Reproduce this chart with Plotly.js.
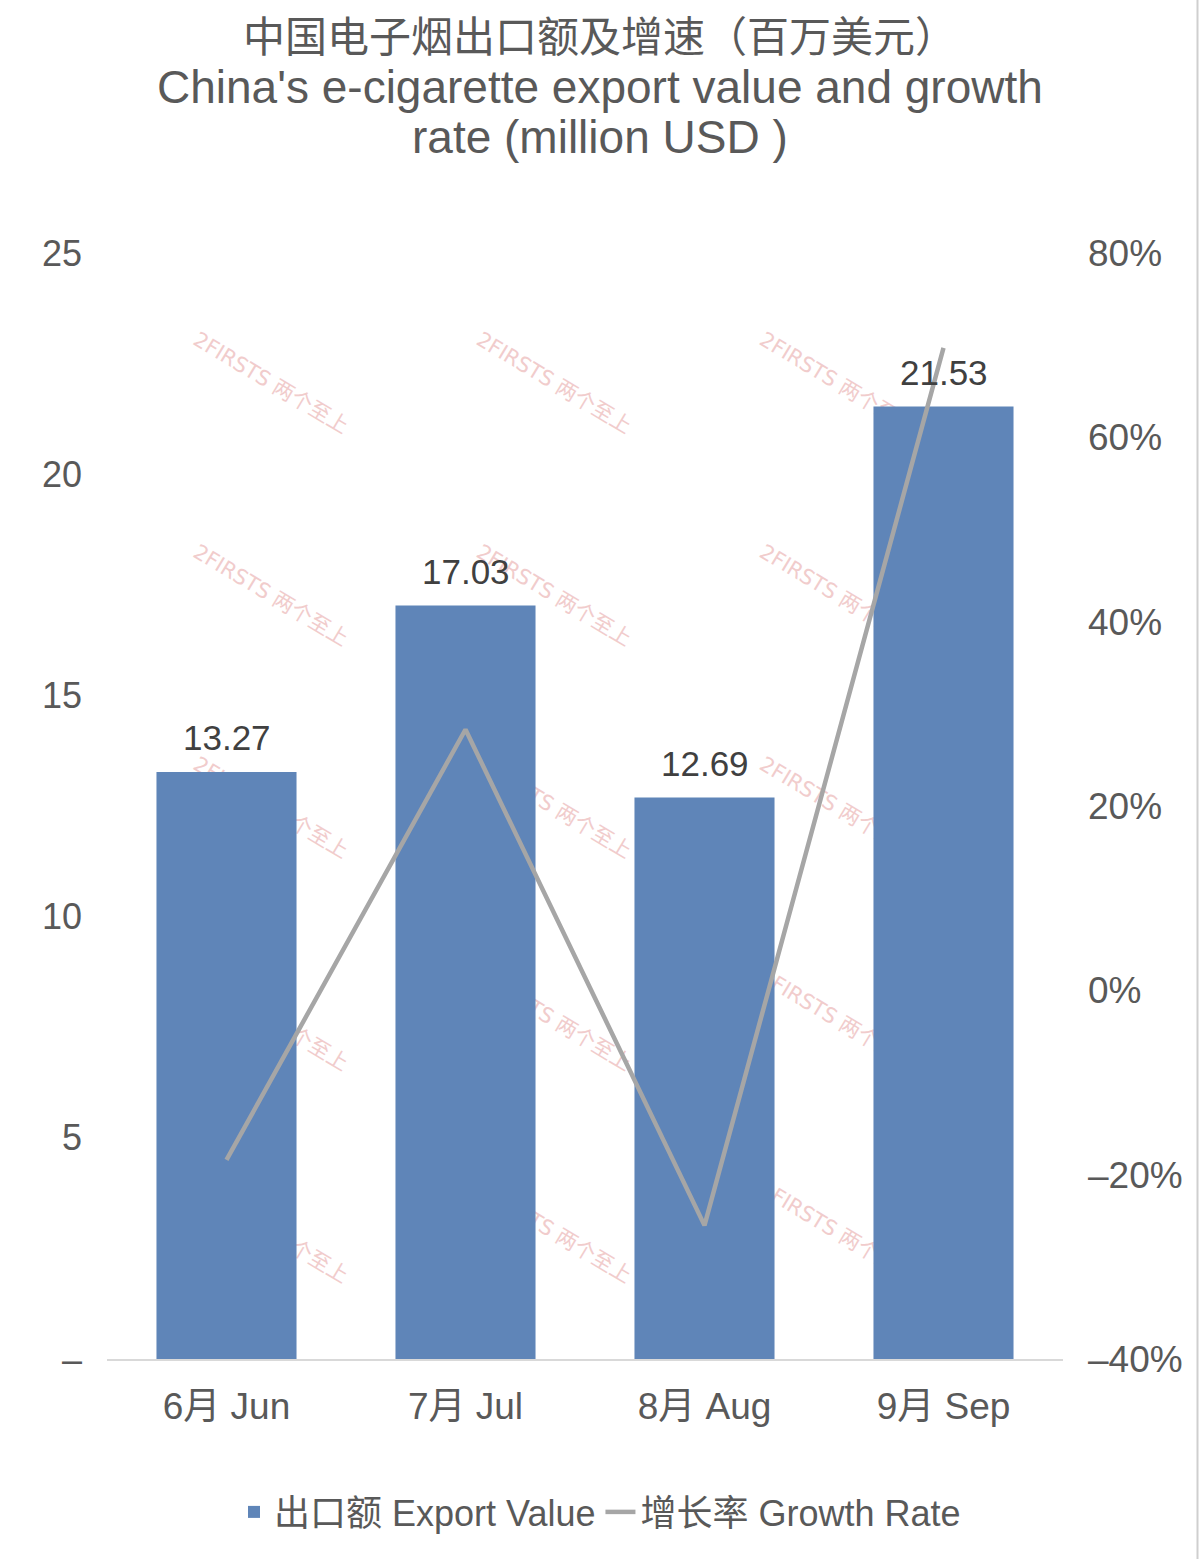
<!DOCTYPE html>
<html>
<head>
<meta charset="utf-8">
<script src="https://cdn.plot.ly/plotly-3.0.1.min.js"></script>
<style>
  html, body { margin: 0; padding: 0; background: #ffffff; }
  #chart { width: 1200px; height: 1559px; }
</style>
</head>
<body>
<div id="chart"></div>
<script>
// ---- data ----
const categories = ['6月 Jun', '7月 Jul', '8月 Aug', '9月 Sep'];
const exportValue = [13.27, 17.03, 12.69, 21.53];      // million USD
const growthRate = [-18.4, 28.3, -25.5, 69.7];          // %
const leftTickVals = [0, 5, 10, 15, 20, 25];
const leftTickText = ['–', '5', '10', '15', '20', '25'];
const rightTickVals = [-40, -20, 0, 20, 40, 60, 80];
const rightTickText = ['–40%', '–20%', '0%', '20%', '40%', '60%', '80%'];
const titleLines = ['中国电子烟出口额及增速（百万美元）', "China's e-cigarette export value and growth", 'rate (million USD )'];
const seriesNames = ['出口额 Export Value', '增长率 Growth Rate'];
const watermarkText = '2FIRSTS 两个至上';

const FONT = 'Liberation Sans, Arial, Noto Sans CJK SC, sans-serif';
const GREY = '#595959';

// plot area geometry (pixels) used to convert to paper coordinates
const W = 1200, H = 1559, L = 107, R = 1063, T = 253, B = 1359;
const px2x = p => (p - L) / (R - L);
const py2y = p => (B - p) / (B - T);

const traces = [
  {
    type: 'bar',
    x: categories,
    y: exportValue,
    name: seriesNames[0],
    marker: { color: '#5f85b8' },
    hoverinfo: 'skip'
  },
  {
    type: 'scatter',
    mode: 'lines',
    x: categories,
    y: growthRate,
    yaxis: 'y2',
    name: seriesNames[1],
    line: { color: '#a6a6a6', width: 4.5 },
    hoverinfo: 'skip'
  }
];

// data labels above bars
const annotations = categories.map((c, i) => ({
  x: c, y: exportValue[i], xref: 'x', yref: 'y',
  text: exportValue[i].toFixed(2),
  showarrow: false, yanchor: 'middle', yshift: 34,
  font: { family: FONT, size: 35, color: '#404040' }
}));

// title lines 2 and 3
[[titleLines[1], 87], [titleLines[2], 137]].forEach(([t, py]) => {
  annotations.push({
    text: t, xref: 'paper', yref: 'paper', x: px2x(600), y: py2y(py),
    xanchor: 'center', yanchor: 'middle', showarrow: false,
    font: { family: FONT, size: 46, color: GREY }
  });
});

// watermark pattern, drawn below the bars as shape labels
const shapes = [];
const wmCols = [0.19, 1.375, 2.56];
const wmRows = [22.1, 17.3, 12.5, 7.7, 2.9];
wmRows.forEach(r => wmCols.forEach(c => {
  shapes.push({
    type: 'rect', layer: 'below', xref: 'x', yref: 'y',
    x0: c - 0.3, x1: c + 0.3, y0: r - 1, y1: r + 1,
    line: { width: 0 }, fillcolor: 'rgba(0,0,0,0)',
    label: {
      text: watermarkText, textangle: 31, textposition: 'middle center',
      font: { family: 'DejaVu Sans, Noto Sans CJK SC, sans-serif', size: 21, color: '#f1cccc' }
    }
  });
}));

// right border line
shapes.push({
  type: 'line', xref: 'paper', yref: 'paper',
  x0: px2x(1197.5), x1: px2x(1197.5), y0: py2y(H), y1: py2y(0),
  line: { color: '#cfcfcf', width: 2 }
});

const layout = {
  width: W, height: H,
  margin: { l: L, r: W - R, t: T, b: H - B, pad: 0 },
  paper_bgcolor: '#ffffff',
  plot_bgcolor: 'rgba(0,0,0,0)',
  font: { family: FONT, color: GREY },
  showlegend: true,
  bargap: 0.414,
  title: {
    text: titleLines[0],
    x: 0.5, xref: 'container', xanchor: 'center',
    y: 1 - 37 / H, yref: 'container', yanchor: 'middle',
    font: { family: FONT, size: 42, color: GREY }
  },
  xaxis: {
    type: 'category', range: [-0.5, 3.5], autorange: false,
    showgrid: false, zeroline: false,
    showline: true, linecolor: '#d9d9d9', linewidth: 1.5,
    ticks: '', ticklabelstandoff: 14,
    tickfont: { family: FONT, size: 37, color: GREY },
    fixedrange: true
  },
  yaxis: {
    range: [0, 25], autorange: false, showgrid: false, zeroline: false, showline: false,
    tickvals: leftTickVals, ticktext: leftTickText,
    ticks: '', ticklabelstandoff: 24,
    tickfont: { family: FONT, size: 36, color: GREY },
    fixedrange: true
  },
  yaxis2: {
    overlaying: 'y', side: 'right',
    range: [-40, 80], autorange: false, showgrid: false, zeroline: false, showline: false,
    tickvals: rightTickVals, ticktext: rightTickText,
    ticks: '', ticklabelstandoff: 24,
    tickfont: { family: FONT, size: 37, color: GREY },
    fixedrange: true
  },
  legend: {
    orientation: 'h', x: px2x(600), xanchor: 'center',
    y: py2y(1512), yanchor: 'middle',
    font: { family: FONT, size: 36, color: GREY },
    bgcolor: 'rgba(0,0,0,0)', itemwidth: 30, traceorder: 'normal'
  },
  annotations: annotations,
  shapes: shapes
};

Plotly.newPlot('chart', traces, layout, { displayModeBar: false, staticPlot: true });
</script>
</body>
</html>
